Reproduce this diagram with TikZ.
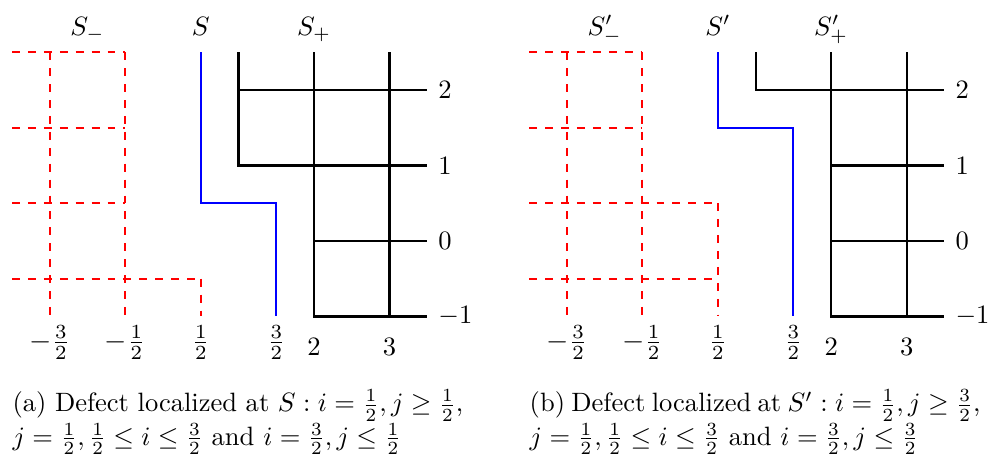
\documentclass[tikz,border=0pt]{standalone}
\usepackage{amsmath,amssymb}
\newcommand{\capblock}[2]{\parbox[t]{6.1cm}{\baselineskip=0.445cm\lineskiplimit=-20pt\lineskip=0pt\noindent\makebox[5.97cm][s]{#1}\\#2}}
\begin{document}
\begin{tikzpicture}[x=1cm,y=1cm,
  dual/.style={red, dashed, line width=0.8pt},
  defect/.style={blue, line width=0.8pt},
  latt/.style={black, line width=0.8pt},
  toplab/.style={anchor=base, inner sep=0pt},
  rowlab/.style={anchor=west, inner sep=0pt, xshift=3.8pt},
  fraclab/.style={anchor=base, inner sep=0pt, scale=1.08},
  intlab/.style={anchor=base, inner sep=0pt},
  caplab/.style={anchor=base west, inner sep=0pt}]
\useasboundingbox (-2.159,-2.887) rectangle (10.954,3.192);

% ---------------- panel (a) ----------------
\draw[dual] (-2,2.5) -- (-0.5,2.5);
\draw[dual] (-2,1.5) -- (-0.5,1.5);
\draw[dual] (-2,0.5) -- (-0.5,0.5);
\draw[dual] (-2,-0.5) -- (0.5,-0.5);
\draw[dual] (-1.5,2.5) -- (-1.5,-1);
\draw[dual] (-0.5,2.5) -- (-0.5,-1);
\draw[dual] (0.5,-0.5) -- (0.5,-1);

\draw[defect] (0.5,2.5) -- (0.5,0.5) -- (1.5,0.5) -- (1.5,-1);

\draw[latt] (1,2.5) -- (1,1) -- (3.5,1) node[rowlab] (a1) {$1$};
\draw[latt] (2,2.5) -- (2,-1) -- (3.5,-1) node[rowlab] (am1) {$-1$};
\draw[latt] (3,2.5) -- (3,-1);
\draw[latt] (1,2) -- (3.5,2) node[rowlab] (a2) {$2$};
\draw[latt] (2,0) -- (3.5,0) node[rowlab] (a0) {$0$};

\node[toplab] (aSm) at (-1,2.728) {$S_-$};
\node[toplab] (aS)  at (0.5,2.728) {$S$};
\node[toplab] (aSp) at (2,2.728) {$S_+$};

\node[fraclab] (am32) at (-1.5,-1.438) {$-\frac{3}{2}$};
\node[fraclab] (am12) at (-0.5,-1.438) {$-\frac{1}{2}$};
\node[fraclab] (ap12) at (0.5,-1.438) {$\frac{1}{2}$};
\node[fraclab] (ap32) at (1.5,-1.438) {$\frac{3}{2}$};
\node[intlab] (ai2) at (2,-1.523) {$2$};
\node[intlab] (ai3) at (3,-1.523) {$3$};

\node[caplab] (capa) at (-2,-2.265) {\capblock{(a) Defect localized at $S:i=\frac{1}{2},j\geq\frac{1}{2}$,}{$j=\frac{1}{2},\frac{1}{2}\leq i\leq\frac{3}{2}$ and $i=\frac{3}{2},j\leq\frac{1}{2}$}};

% ---------------- panel (b) ----------------
\begin{scope}[xshift=6.85cm]
\draw[dual] (-2,2.5) -- (-0.5,2.5);
\draw[dual] (-2,1.5) -- (-0.5,1.5);
\draw[dual] (-2,0.5) -- (0.5,0.5);
\draw[dual] (-2,-0.5) -- (0.5,-0.5);
\draw[dual] (-1.5,2.5) -- (-1.5,-1);
\draw[dual] (-0.5,2.5) -- (-0.5,-1);
\draw[dual] (0.5,0.5) -- (0.5,-1);

\draw[defect] (0.5,2.5) -- (0.5,1.5) -- (1.5,1.5) -- (1.5,-1);

\draw[latt] (1,2.5) -- (1,2) -- (3.5,2) node[rowlab] (b2) {$2$};
\draw[latt] (2,2.5) -- (2,-1) -- (3.5,-1) node[rowlab] (bm1) {$-1$};
\draw[latt] (3,2.5) -- (3,-1);
\draw[latt] (2,1) -- (3.5,1) node[rowlab] (b1) {$1$};
\draw[latt] (2,0) -- (3.5,0) node[rowlab] (b0) {$0$};

\node[toplab] (bSm) at (-1,2.728) {$S'_-$};
\node[toplab] (bS)  at (0.5,2.728) {$S'$};
\node[toplab] (bSp) at (2,2.728) {$S'_+$};

\node[fraclab] (bm32) at (-1.5,-1.438) {$-\frac{3}{2}$};
\node[fraclab] (bm12) at (-0.5,-1.438) {$-\frac{1}{2}$};
\node[fraclab] (bp12) at (0.5,-1.438) {$\frac{1}{2}$};
\node[fraclab] (bp32) at (1.5,-1.438) {$\frac{3}{2}$};
\node[intlab] (bi2) at (2,-1.523) {$2$};
\node[intlab] (bi3) at (3,-1.523) {$3$};

\node[caplab] (capb) at (-2,-2.265) {\capblock{(b) Defect localized at $S':i=\frac{1}{2},j\geq\frac{3}{2}$,}{$j=\frac{1}{2},\frac{1}{2}\leq i\leq\frac{3}{2}$ and $i=\frac{3}{2},j\leq\frac{3}{2}$}};
\end{scope}
\end{tikzpicture}
\end{document}
